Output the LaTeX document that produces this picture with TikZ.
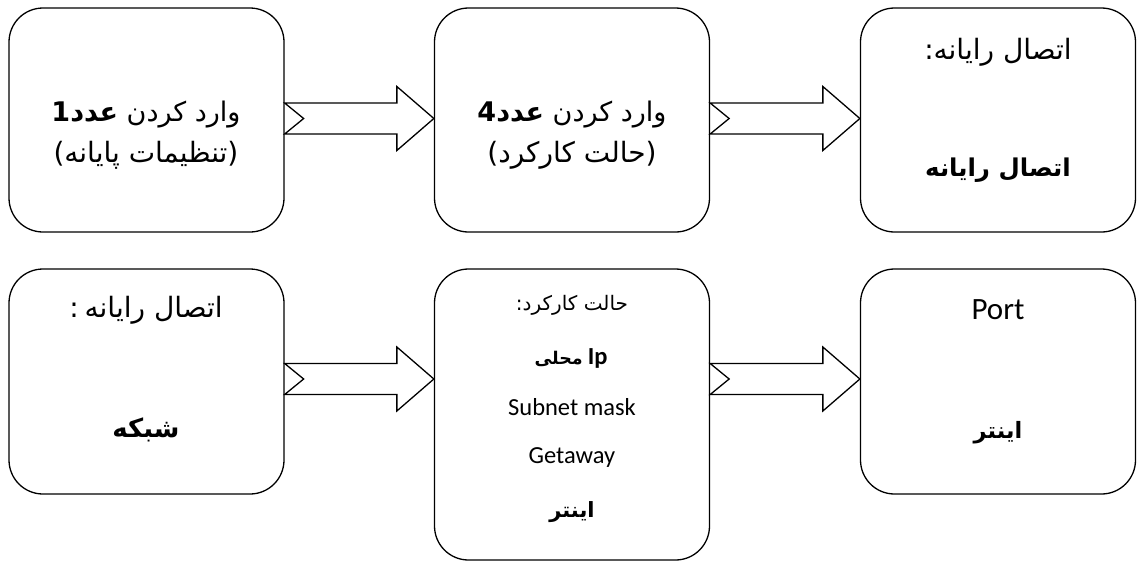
\documentclass[tikz,border=0pt]{standalone}
\usepackage{fontspec}
\setmainfont{Carlito}
\newfontfamily\fa[Script=Arabic]{DejaVu Sans}
\newfontfamily\dv{DejaVu Sans}
\TeXXeTstate=1
\usetikzlibrary{calc}
\begin{document}
\begin{tikzpicture}[x=1pt,y=-1pt,
  box/.style={draw, line width=1.3pt, rounded corners=34pt, minimum width=275pt, inner sep=0pt},
  lbl/.style={inner sep=0pt, anchor=center},
  big/.style={font=\fa\fontsize{28}{32}\selectfont},
  lineone/.style={font=\fa\fontsize{27}{30}\selectfont},
  mid/.style={font=\fa\fontsize{20}{24}\selectfont},
  lat/.style={font=\fontsize{24.5}{28}\selectfont},
  arr/.style={draw, line width=1.3pt, line join=miter, fill=white}
]
\useasboundingbox (0,0) rectangle (1138,563);
% boxes
\node[box, minimum height=224pt] (b1) at (146.5,120) {};
\node[box, minimum height=224pt] (b2) at (572,120) {};
\node[box, minimum height=224pt] (b3) at (998,120) {};
\node[box, minimum height=225pt] (b4) at (146.5,381.5) {};
\node[box, minimum height=291pt] (b5) at (572,414.5) {};
\node[box, minimum height=225pt] (b6) at (998,381.5) {};
% arrows
\newcommand\fatarrow[2]{%
  \draw[arr] ($(#1)+(0,-15.5)$) -- ($(#2)+(-37,-15.5)$) -- ($(#2)+(-37,-32)$) -- (#2)
    -- ($(#2)+(-37,32)$) -- ($(#2)+(-37,15.5)$) -- ($(#1)+(0,15.5)$) -- ($(#1)+(19,0)$) -- cycle;}
\coordinate (a1s) at ($(b1.east)+(0,-1.5)$);
\coordinate (a1e) at ($(b2.west)+(0,-1.5)$);
\coordinate (a2s) at ($(b2.east)+(0,-1.5)$);
\coordinate (a2e) at ($(b3.west)+(0,-1.5)$);
\coordinate (a3s) at ($(b4.east)+(0,-2.5)$);
\coordinate (a3e) at ($(b5.west |- b4.east)+(0,-2.5)$);
\coordinate (a4s) at ($(b5.east |- b6.west)+(0,-2.5)$);
\coordinate (a4e) at ($(b6.west)+(0,-2.5)$);
\fatarrow{a1s}{a1e}
\fatarrow{a2s}{a2e}
\fatarrow{a3s}{a3e}
\fatarrow{a4s}{a4e}
% texts box 1
\node[lbl, lineone] (t1a) at (146,115) {{\bfseries 1}\beginR وارد کردن {\bfseries عدد}\endR};
\node[lbl, big] (t1b) at (146,155) {{\dv(}\beginR تنظیمات پایانه\endR{\dv)}};
% box 2
\node[lbl, lineone] (t2a) at (572,115) {{\bfseries 4}\beginR وارد کردن {\bfseries عدد}\endR};
\node[lbl, big] (t2b) at (572,155) {{\dv(}\beginR حالت کارکرد\endR{\dv)}};
% box 3
\node[lbl, big] (t3a) at (998,52) {:\beginR اتصال رایانه\endR};
\node[lbl, font=\fa\fontsize{24.5}{28}\selectfont] (t3b) at (998,170) {\bfseries\beginR اتصال رایانه\endR};
% box 4
\node[lbl, big] (t4a) at (146,310) {:\hspace{6pt}\beginR اتصال رایانه\endR};
\node[lbl, font=\fa\fontsize{26}{30}\selectfont] (t4b) at (146,430) {\bfseries\beginR شبکه\endR};
% box 5
\node[lbl, mid] (t5a) at (572,305) {:\beginR حالت کارکرد\endR};
\node[lbl] (t5b) at (571,358) {{\fa\fontsize{17.5}{22}\selectfont\bfseries\beginR محلی\endR}\hspace{5pt}{\fontsize{24.5}{28}\selectfont\bfseries Ip}};
\node[lbl, lat] (t5c) at (572,407) {Subnet mask};
\node[lbl, lat] (t5d) at (572,458) {Getaway};
\node[lbl, font=\fa\fontsize{21}{24}\selectfont] (t5e) at (572,512) {\bfseries\beginR اینتر\endR};
% box 6
\node[lbl, font=\fontsize{31}{34}\selectfont] (t6a) at (998,310) {Port};
\node[lbl, font=\fa\fontsize{22.5}{26}\selectfont] (t6b) at (998,433) {\bfseries\beginR اینتر\endR};
\end{tikzpicture}
\end{document}
